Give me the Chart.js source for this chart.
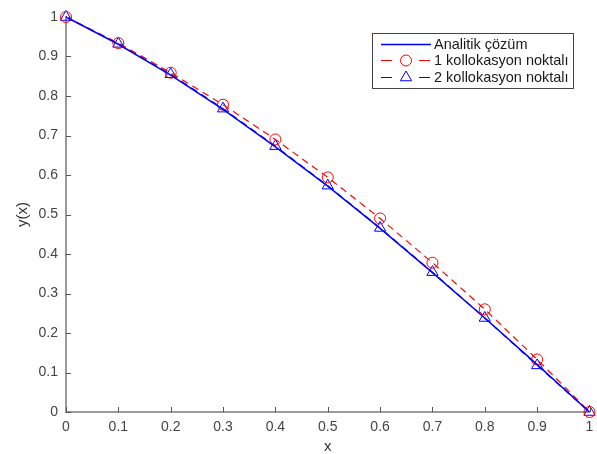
<!DOCTYPE html>
<html>
<head>
<meta charset="utf-8">
<script src="https://cdn.jsdelivr.net/npm/chart.js@4.4.0/dist/chart.umd.min.js"></script>
<style>
html,body{margin:0;padding:0;background:#fff;}
#c{display:block;}
</style>
</head>
<body>
<canvas id="c" width="597" height="454"></canvas>
<script>
const xValues = [0, 0.1, 0.2, 0.3, 0.4, 0.5, 0.6, 0.7, 0.8, 0.9, 1.0];
const analitik = [1, 0.931, 0.853, 0.766, 0.671, 0.572, 0.465, 0.353, 0.238, 0.120, 0];
const kolok1 = [1, 0.934, 0.859, 0.778, 0.690, 0.594, 0.490, 0.378, 0.260, 0.133, 0];
const kolok2 = [1, 0.932, 0.855, 0.768, 0.673, 0.573, 0.466, 0.354, 0.238, 0.118, 0];
const seriesLabels = ['Analitik çözüm', '1 kollokasyon noktalı', '2 kollokasyon noktalı'];
const xTitle = 'x';
const yTitle = 'y(x)';

const toPts = ys => xValues.map((x, i) => ({x: x, y: ys[i]}));
const FONT = '"Liberation Sans", Arial, sans-serif';
const fmt = v => String(Number(Number(v).toFixed(1)));

const inwardTicks = {
  id: 'inwardTicks',
  afterDatasetsDraw(chart) {
    const ctx = chart.ctx, xs = chart.scales.x, ys = chart.scales.y;
    const ca = chart.chartArea;
    ctx.save();
    ctx.strokeStyle = '#555';
    ctx.lineWidth = 1;
    ctx.beginPath();
    xs.ticks.forEach(t => {
      const px = Math.round(xs.getPixelForValue(t.value)) + 0.5;
      ctx.moveTo(px, ca.bottom); ctx.lineTo(px, ca.bottom - 5);
    });
    ys.ticks.forEach(t => {
      const py = Math.round(ys.getPixelForValue(t.value)) + 0.5;
      ctx.moveTo(ca.left, py); ctx.lineTo(ca.left + 5, py);
    });
    ctx.stroke();
    ctx.restore();
  }
};

const boxLegend = {
  id: 'boxLegend',
  afterDraw(chart) {
    const ctx = chart.ctx, ca = chart.chartArea;
    const left = 372, top = ca.top + 16, w = 201, h = 55;
    ctx.save();
    ctx.fillStyle = '#fff';
    ctx.fillRect(left, top, w, h);
    ctx.strokeStyle = '#444';
    ctx.lineWidth = 1;
    ctx.strokeRect(left + 0.5, top + 0.5, w, h);
    const rows = [11, 27, 44];
    chart.data.datasets.forEach((ds, i) => {
      const y = top + rows[i] + 0.5;
      const x0 = left + 9, x1 = left + 59, mx = left + 34;
      ctx.strokeStyle = ds.borderColor;
      ctx.lineWidth = ds.borderWidth;
      ctx.setLineDash(ds.borderDash ? [11, 27] : []);
      ctx.beginPath(); ctx.moveTo(x0, y); ctx.lineTo(x1, y); ctx.stroke();
      ctx.setLineDash([]);
      if (ds.pointRadius > 0) {
        ctx.strokeStyle = ds.pointBorderColor;
        ctx.fillStyle = 'rgba(0,0,0,0)';
        ctx.lineWidth = ds.pointBorderWidth;
        Chart.helpers.drawPoint(ctx, {pointStyle: ds.pointStyle, radius: ds.pointRadius, rotation: 0, borderWidth: ds.pointBorderWidth}, mx, y);
      }
      ctx.fillStyle = '#1a1a1a';
      ctx.font = '14.5px ' + FONT;
      ctx.textBaseline = 'middle';
      ctx.textAlign = 'left';
      ctx.fillText(ds.label, left + 62, y);
    });
    ctx.restore();
  }
};

new Chart(document.getElementById('c'), {
  type: 'scatter',
  data: {
    datasets: [
      {
        label: seriesLabels[0], data: toPts(analitik), showLine: true,
        borderColor: '#0000ff', borderWidth: 1.5, pointRadius: 0, clip: false
      },
      {
        label: seriesLabels[1], data: toPts(kolok1), showLine: true,
        borderColor: '#ff0000', borderWidth: 1.2, borderDash: [7, 5],
        pointStyle: 'circle', pointRadius: 5.5, pointBorderWidth: 1,
        pointBorderColor: '#ff0000', pointBackgroundColor: 'rgba(0,0,0,0)', clip: false
      },
      {
        label: seriesLabels[2], data: toPts(kolok2), showLine: true,
        borderColor: '#0000ff', borderWidth: 1.2, borderDash: [7, 5],
        pointStyle: 'triangle', pointRadius: 6.5, pointBorderWidth: 1,
        pointBorderColor: '#0000ff', pointBackgroundColor: 'rgba(0,0,0,0)', clip: false
      }
    ]
  },
  options: {
    responsive: false,
    animation: false,
    events: [],
    layout: {padding: {top: 17, right: 0, left: 0, bottom: 0}},
    plugins: {legend: {display: false}, tooltip: {enabled: false}},
    scales: {
      x: {
        type: 'linear', min: 0, max: 1,
        afterFit(s) { s.height = 42; s.paddingRight = 0; s.paddingLeft = 0; },
        border: {display: true, color: '#9a9a9a', width: 2},
        grid: {drawOnChartArea: false, drawTicks: false},
        ticks: {stepSize: 0.1, padding: 7, color: '#444', font: {family: FONT, size: 14}, callback: v => fmt(v), maxRotation: 0, autoSkip: false},
        title: {display: true, text: xTitle, color: '#333', font: {family: FONT, size: 15, lineHeight: 1}, padding: 0}
      },
      y: {
        type: 'linear', min: 0, max: 1,
        afterFit(s) { s.width = 66; s.paddingTop = 0; s.paddingBottom = 0; },
        border: {display: true, color: '#9a9a9a', width: 2},
        grid: {drawOnChartArea: false, drawTicks: false},
        ticks: {stepSize: 0.1, padding: 8, color: '#444', font: {family: FONT, size: 14}, callback: v => fmt(v), autoSkip: false},
        title: {display: true, text: yTitle, color: '#333', font: {family: FONT, size: 15, lineHeight: 1}, padding: {top: 15, bottom: 0}}
      }
    }
  },
  plugins: [inwardTicks, boxLegend]
});
</script>
</body>
</html>
